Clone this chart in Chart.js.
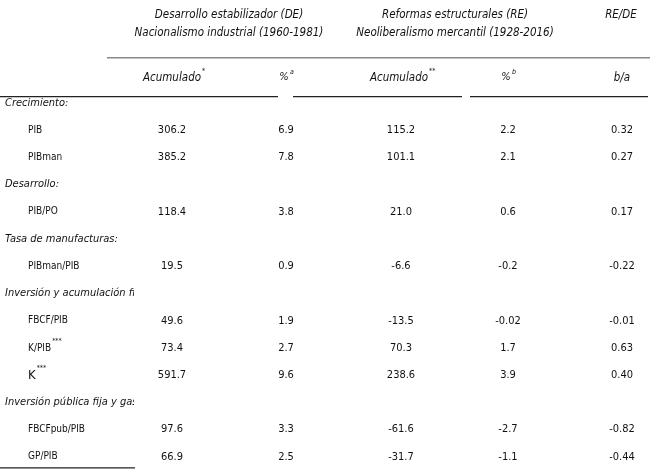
<!DOCTYPE html>
<html>
<head>
<meta charset="utf-8">
<script src="https://cdn.jsdelivr.net/npm/chart.js@4"></script>
<style>
  html, body { margin: 0; padding: 0; background: #fff; }
  #wrap { width: 650px; height: 476px; }
</style>
</head>
<body>
<div id="wrap"><canvas id="tableChart"></canvas></div>
<script>
// Table content
const rowLabels = ['Crecimiento:', 'PIB', 'PIBman', 'Desarrollo:', 'PIB/PO', 'Tasa de manufacturas:', 'PIBman/PIB',
    'Inversión y acumulación fija', 'FBCF/PIB', 'K/PIB***', 'K***', 'Inversión pública fija y gasto', 'FBCFpub/PIB', 'GP/PIB'];
const sectionRows = [0, 3, 5, 7, 11];
const deAcum = [null, '306.2', '385.2', null, '118.4', null, '19.5', null, '49.6', '73.4', '591.7', null, '97.6', '66.9'];
const dePct = [null, '6.9', '7.8', null, '3.8', null, '0.9', null, '1.9', '2.7', '9.6', null, '3.3', '2.5'];
const reAcum = [null, '115.2', '101.1', null, '21.0', null, '-6.6', null, '-13.5', '70.3', '238.6', null, '-61.6', '-31.7'];
const rePct = [null, '2.2', '2.1', null, '0.6', null, '-0.2', null, '-0.02', '1.7', '3.9', null, '-2.7', '-1.1'];
const ratio = [null, '0.32', '0.27', null, '0.17', null, '-0.22', null, '-0.01', '0.63', '0.40', null, '-0.82', '-0.44'];

// Column centres on the x scale (0..650)
const colX = [172, 286, 401, 508, 622];

const FONT = '"DejaVu Sans Condensed", "Liberation Sans Narrow", sans-serif';

const tablePlugin = {
    id: 'tableText',
    afterDraw(chart) {
        const c = chart.ctx;
        const xs = chart.scales.x, ys = chart.scales.y;
        const X = v => xs.getPixelForValue(v);
        const Y = v => ys.getPixelForValue(v);
        c.save();
        c.fillStyle = '#111';
        c.textBaseline = 'middle';

        function txt(s, x, y, align, size, italic) {
            c.font = (italic ? 'italic ' : '') + size + 'px ' + FONT;
            c.textAlign = align;
            c.fillText(s, x, y);
        }
        function sup(s, x, y) {
            c.font = 'italic 7px ' + FONT;
            c.textAlign = 'left';
            c.fillText(s, x, y);
        }

        // Header titles
        txt('Desarrollo estabilizador (DE)', X(229), Y(-3.2), 'center', 11.5, true);
        txt('Nacionalismo industrial (1960-1981)', X(229), Y(-2.55), 'center', 11.5, true);
        txt('Reformas estructurales (RE)', X(455), Y(-3.2), 'center', 11.5, true);
        txt('Neoliberalismo mercantil (1928-2016)', X(455), Y(-2.55), 'center', 11.5, true);
        txt('RE/DE', X(621), Y(-3.2), 'center', 11.5, true);

        // Sub headers
        txt('Acumulado', X(colX[0]), Y(-0.9), 'center', 11.5, true);
        sup('*', X(colX[0]) + 30, Y(-1.15));
        txt('%', X(colX[1]) - 2, Y(-0.9), 'center', 11, true);
        sup('a', X(colX[1]) + 4, Y(-1.1));
        txt('Acumulado', X(colX[2] - 2), Y(-0.9), 'center', 11.5, true);
        sup('**', X(colX[2]) + 28, Y(-1.15));
        txt('%', X(colX[3]) - 2, Y(-0.9), 'center', 11, true);
        sup('b', X(colX[3]) + 4, Y(-1.1));
        txt('b/a', X(colX[4]), Y(-0.9), 'center', 11.5, true);

        // Rows
        rowLabels.forEach((lab, i) => {
            const y = Y(i + 0.03);
            if (sectionRows.includes(i)) {
                // stub column is narrow: long labels are cut at its edge
                c.save();
                c.beginPath();
                c.rect(0, y - 10, X(134), 20);
                c.clip();
                txt(lab, X(5), y, 'left', 11, true);
                c.restore();
            } else {
                const base = lab.replace(/\*+$/, '');
                const stars = lab.slice(base.length);
                const big = base === 'K';
                txt(base, X(28), y, 'left', big ? 13 : 10, false);
                if (stars) {
                    c.font = (big ? 13 : 10) + 'px ' + FONT;
                    const w = c.measureText(base).width;
                    sup(stars, X(28) + w + 1, y - 7);
                }
            }
            [deAcum, dePct, reAcum, rePct, ratio].forEach((arr, k) => {
                if (arr[i] !== null) txt(arr[i], X(colX[k]), y, 'center', 11, false);
            });
        });

        // Rules
        function line(x1, x2, yv, col, w) {
            c.strokeStyle = col;
            c.lineWidth = w;
            c.beginPath();
            c.moveTo(X(x1), Y(yv));
            c.lineTo(X(x2), Y(yv));
            c.stroke();
        }
        line(107, 650, -1.63, '#888', 1.5);
        line(0, 278, -0.2, '#222', 1.2);
        line(293, 462, -0.2, '#222', 1.2);
        line(470, 648, -0.2, '#222', 1.2);
        line(0, 135, 13.44, '#222', 1.2);
        c.restore();
    }
};

function initTable() {
    const ctx = document.getElementById('tableChart');
    const pts = [];
    rowLabels.forEach((l, i) => colX.forEach(x => pts.push({ x: x, y: i })));
    new Chart(ctx, {
        type: 'scatter',
        data: { datasets: [{ data: pts, pointRadius: 0, pointHoverRadius: 0 }] },
        options: {
            responsive: true,
            maintainAspectRatio: false,
            animation: false,
            layout: { padding: 0 },
            plugins: { legend: { display: false }, tooltip: { enabled: false } },
            scales: {
                x: { type: 'linear', min: 0, max: 650, display: false },
                y: { type: 'linear', min: -3.75, max: 13.735, reverse: true, display: false }
            }
        },
        plugins: [tablePlugin]
    });
}

document.addEventListener('DOMContentLoaded', initTable);
</script>
</body>
</html>
